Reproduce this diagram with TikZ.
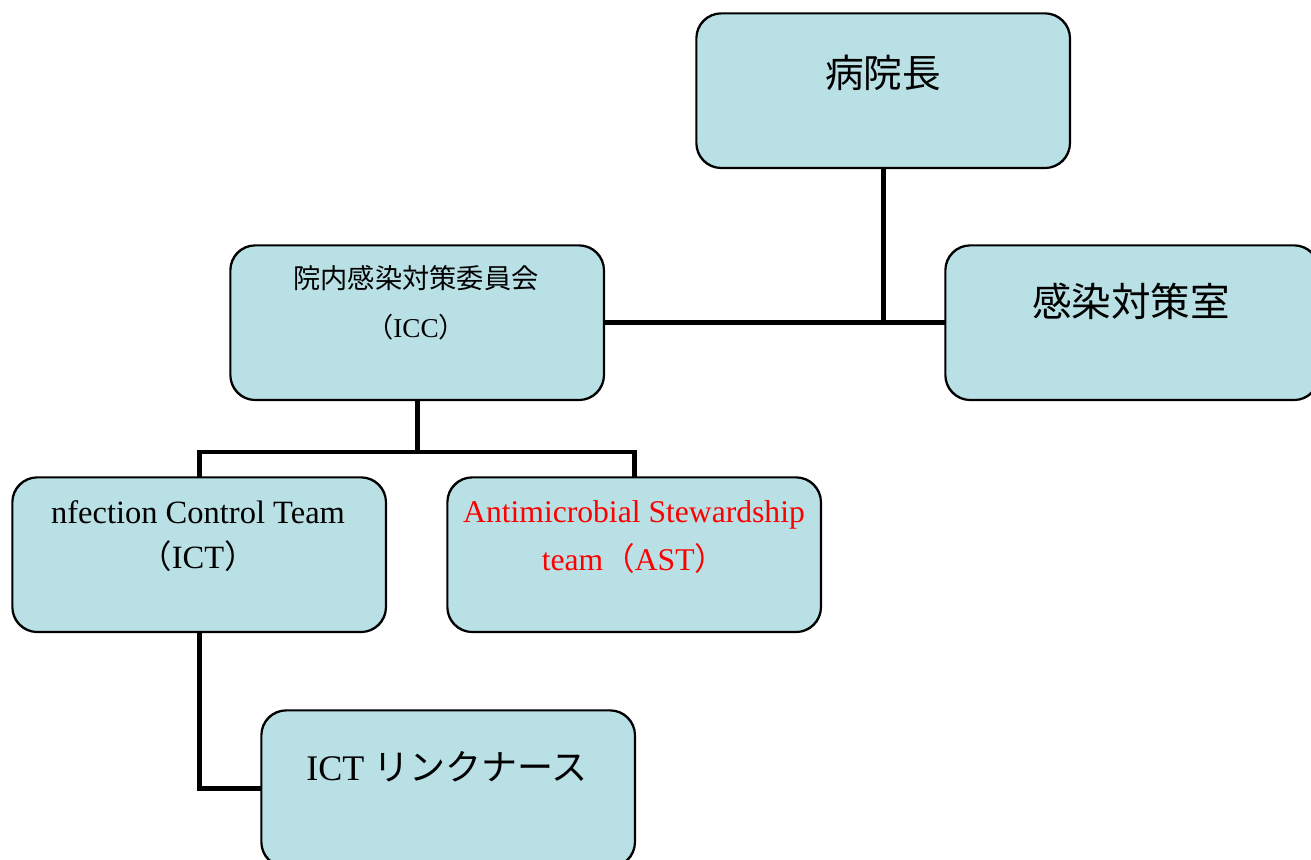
\documentclass[tikz,border=0pt]{standalone}
\usepackage{fontspec}
\setmainfont{Liberation Serif}
\newfontfamily\jp{Noto Sans CJK JP}
\definecolor{boxfill}{RGB}{185,224,228}
\definecolor{astred}{RGB}{255,0,0}
\begin{document}
\begin{tikzpicture}[x=0.02cm,y=-0.02cm,
  box/.style={draw=black, line width=0.8pt, fill=boxfill, rounded corners=0.5cm,
    minimum width=7.46cm, minimum height=3.08cm, inner sep=0pt, anchor=north west},
  conn/.style={line width=2.8pt, draw=black, line join=miter},
  lbl/.style={align=center, inner sep=0pt, text=black}]
\useasboundingbox (0,0) rectangle (1311,859);
\begin{scope}
\clip (0,0) rectangle (1311,859);
% boxes
\node[box] (hosp) at (696,13) {};
\node[box] (room) at (945,245) {};
\node[box] (icc)  at (230,245) {};
\node[box] (ict)  at (12,477) {};
\node[box] (ast)  at (447,477) {};
\node[box, minimum height=3.12cm] (link) at (261,710) {};
% connectors
\coordinate (bus) at (416.5,452);
\draw[conn] (hosp.south) -- (hosp.south |- room.west);
\draw[conn] (icc.east) -- (room.west);
\draw[conn] (icc.south) -- (icc.south |- bus);
\draw[conn] (ict.north) -- (ict.north |- bus) -- (ast.north |- bus) -- (ast.north);
\draw[conn] (ict.south) |- (link.west);
% redraw box outlines over connector ends
\foreach \b in {hosp,room,icc,ict,ast,link}{
  \draw[line width=0.8pt, rounded corners=0.5cm] (\b.north west) rectangle (\b.south east);
}
% labels
\node[lbl, font=\jp\fontsize{22}{26}\selectfont] (thosp) at (883,73) {病院長};
\node[lbl, font=\jp\fontsize{22.5}{26}\selectfont] (troom) at (1131,301) {感染対策室};
\node[lbl, font=\fontsize{15.5}{28}\selectfont] (ticc) at (416,303)
  {{\jp 院内感染対策委員会}\\{\jp （}ICC{\jp ）}};
\node[lbl, font=\fontsize{18.5}{26}\selectfont] (tict) at (198,536)
  {nfection Control Team\\{\jp （}ICT{\jp ）}};
\node[lbl, text=astred, font=\fontsize{18}{27}\selectfont] (tast) at (634,537)
  {Antimicrobial Stewardship\\team{\jp （}AST{\jp ）}};
\node[lbl, font=\fontsize{20.5}{24}\selectfont] (tlink) at (447,767)
  {ICT {\jp リンクナース}};
\end{scope}
\end{tikzpicture}
\end{document}
